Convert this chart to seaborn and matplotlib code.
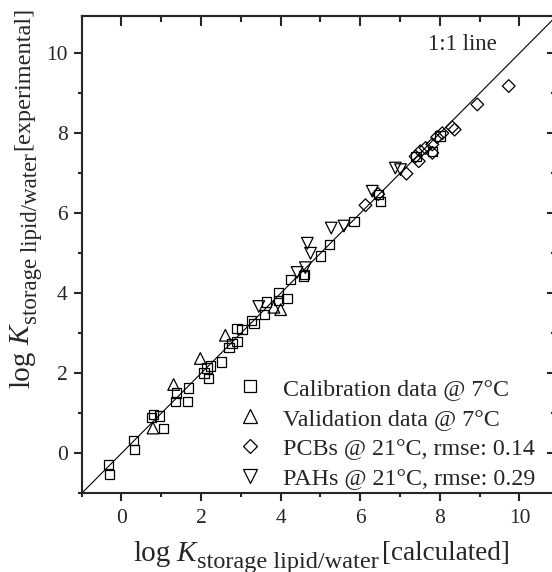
import pandas as pd
import seaborn as sns
import matplotlib.pyplot as plt
from matplotlib.lines import Line2D
from matplotlib.ticker import MultipleLocator
from matplotlib.transforms import IdentityTransform

# --- dados (log K calculado vs experimental) ---
calib_calc = [-0.32, -0.30, 0.31, 0.33, 0.75, 0.80, 0.96, 1.05, 1.38, 1.36, 1.65, 1.68,
              2.07, 2.19, 2.15, 2.24, 2.51, 2.70, 2.78, 2.90, 2.90, 3.03, 3.27, 3.33,
              3.59, 3.64, 3.95, 4.16, 3.95, 4.25, 4.58, 4.60, 5.00, 5.23, 5.84, 6.46,
              6.51, 7.40, 7.82, 8.00]
calib_exp = [-0.28, -0.53, 0.32, 0.09, 0.90, 0.97, 0.93, 0.62, 1.51, 1.30, 1.30, 1.63,
             2.01, 1.87, 2.13, 2.18, 2.28, 2.65, 2.75, 2.80, 3.12, 3.09, 3.32, 3.24,
             3.47, 3.78, 4.01, 3.87, 3.82, 4.34, 4.43, 4.47, 4.93, 5.22, 5.80, 6.47,
             6.30, 7.42, 7.55, 7.93]

valid_calc = [0.79, 1.31, 1.98, 2.61, 3.83, 4.00]
valid_exp = [0.63, 1.72, 2.37, 2.95, 3.65, 3.59]

pcb_calc = [6.13, 6.45, 7.16, 7.39, 7.47, 7.51, 7.64, 7.81, 7.81, 7.93, 8.06, 8.31,
            8.37, 8.94, 9.73]
pcb_exp = [6.20, 6.48, 6.99, 7.42, 7.30, 7.55, 7.63, 7.72, 7.51, 7.90, 8.00, 8.15,
           8.09, 8.72, 9.18]

pah_calc = [3.45, 4.41, 4.62, 4.75, 4.67, 5.27, 5.59, 6.30, 6.88, 7.01]
pah_exp = [3.67, 4.52, 4.64, 5.00, 5.25, 5.63, 5.68, 6.55, 7.13, 7.09]

labels = ['Calibration data @ 7°C', 'Validation data @ 7°C',
          'PCBs @ 21°C, rmse: 0.14', 'PAHs @ 21°C, rmse: 0.29']
lims = (-1, 10.93)

sns.set_style('ticks')
plt.rcParams['font.family'] = ['Liberation Serif', 'DejaVu Serif']

W, H = 552, 572
fig = plt.figure(figsize=(W / 100, H / 100), dpi=100)
ax = fig.add_axes([81.7 / W, (H - 493.3) / H, 474.8 / W, 477.3 / H])

# linha 1:1
ax.axline((0, 0), slope=1, color='black', lw=0.8, zorder=1)

grupos = [
    (calib_calc, calib_exp, 's', 45),
    (valid_calc, valid_exp, '^', 70),
    (pcb_calc, pcb_exp, 'D', 42),
    (pah_calc, pah_exp, 'v', 70),
]
for (xc, ye, mk, s), lab in zip(grupos, labels):
    df = pd.DataFrame({'calc': xc, 'exp': ye})
    sns.scatterplot(data=df, x='calc', y='exp', marker=mk, s=s, facecolor='none',
                    edgecolor='black', linewidth=0.9, ax=ax, zorder=3)

ax.set_xlim(lims)
ax.set_ylim(lims)
ax.set_xlabel('')
ax.set_ylabel('')

for loc_ax in (ax.xaxis, ax.yaxis):
    loc_ax.set_major_locator(MultipleLocator(2))
    loc_ax.set_minor_locator(MultipleLocator(1))
ax.tick_params(which='both', direction='out', top=False, right=False, width=1.5,
               labelsize=15.5)
ax.tick_params(which='major', length=6)
ax.tick_params(which='minor', length=3)
ax.tick_params(axis='y', pad=4)
ax.tick_params(axis='x', pad=5)
for sp in ax.spines.values():
    sp.set_linewidth(1.5)

# ticks para dentro no topo e na direita
secx = ax.secondary_xaxis('top')
secy = ax.secondary_yaxis('right')
for sec, axis in ((secx, secx.xaxis), (secy, secy.yaxis)):
    axis.set_major_locator(MultipleLocator(2))
    axis.set_minor_locator(MultipleLocator(1))
    sec.tick_params(which='both', direction='in', width=1.5, labeltop=False,
                    labelright=False)
    sec.tick_params(which='major', length=7)
    sec.tick_params(which='minor', length=4)
    for sp in sec.spines.values():
        sp.set_linewidth(1.5)

ax.text(7.71, 10.22, '1:1 line', fontsize=16.5, va='center')

handles = [Line2D([], [], marker=m, ls='none', mfc='none', mec='black', mew=0.9,
                  ms=ms, label=lab)
           for m, ms, lab in zip(['s', '^', 'D', 'v'], [8, 9.5, 6.8, 9.5], labels)]
ax.legend(handles=handles, loc='upper left', bbox_to_anchor=(226 / W, 1 - 366 / H),
          bbox_transform=fig.transFigure, frameon=False, fontsize=17.3,
          borderpad=0, handlelength=1.0, handletextpad=0.875, labelspacing=0.34)

# rótulos dos eixos montados em pedaços (tamanhos diferentes)
renderer = fig.canvas.get_renderer()


def rotulo(partes, x0, y0, vertical=False):
    pos = 0
    for txt, size, style, shift, gap in partes:
        if vertical:
            t = fig.text(x0 + shift, H - (y0 - pos), txt, transform=IdentityTransform(),
                         rotation=90, rotation_mode='anchor', ha='left', va='baseline',
                         fontsize=size, style=style)
            pos += t.get_window_extent(renderer).height + gap
        else:
            t = fig.text(x0 + pos, H - y0 - shift, txt, transform=IdentityTransform(),
                         ha='left', va='baseline', fontsize=size, style=style)
            pos += t.get_window_extent(renderer).width + gap


rotulo([('log', 21, 'normal', 0, 6), ('K', 21, 'italic', 0, 1),
        ('storage lipid/water', 17.5, 'normal', 7, 4),
        ('[calculated]', 19.5, 'normal', -1, 0)], 133, 561)
rotulo([('log', 21, 'normal', 0, 6), ('K', 21, 'italic', 0, 1),
        ('storage lipid/water', 16.5, 'normal', 8, 4),
        ('[experimental]', 17.5, 'normal', 0, 0)], 29, 388, vertical=True)

fig.savefig('out.png', dpi=100)
